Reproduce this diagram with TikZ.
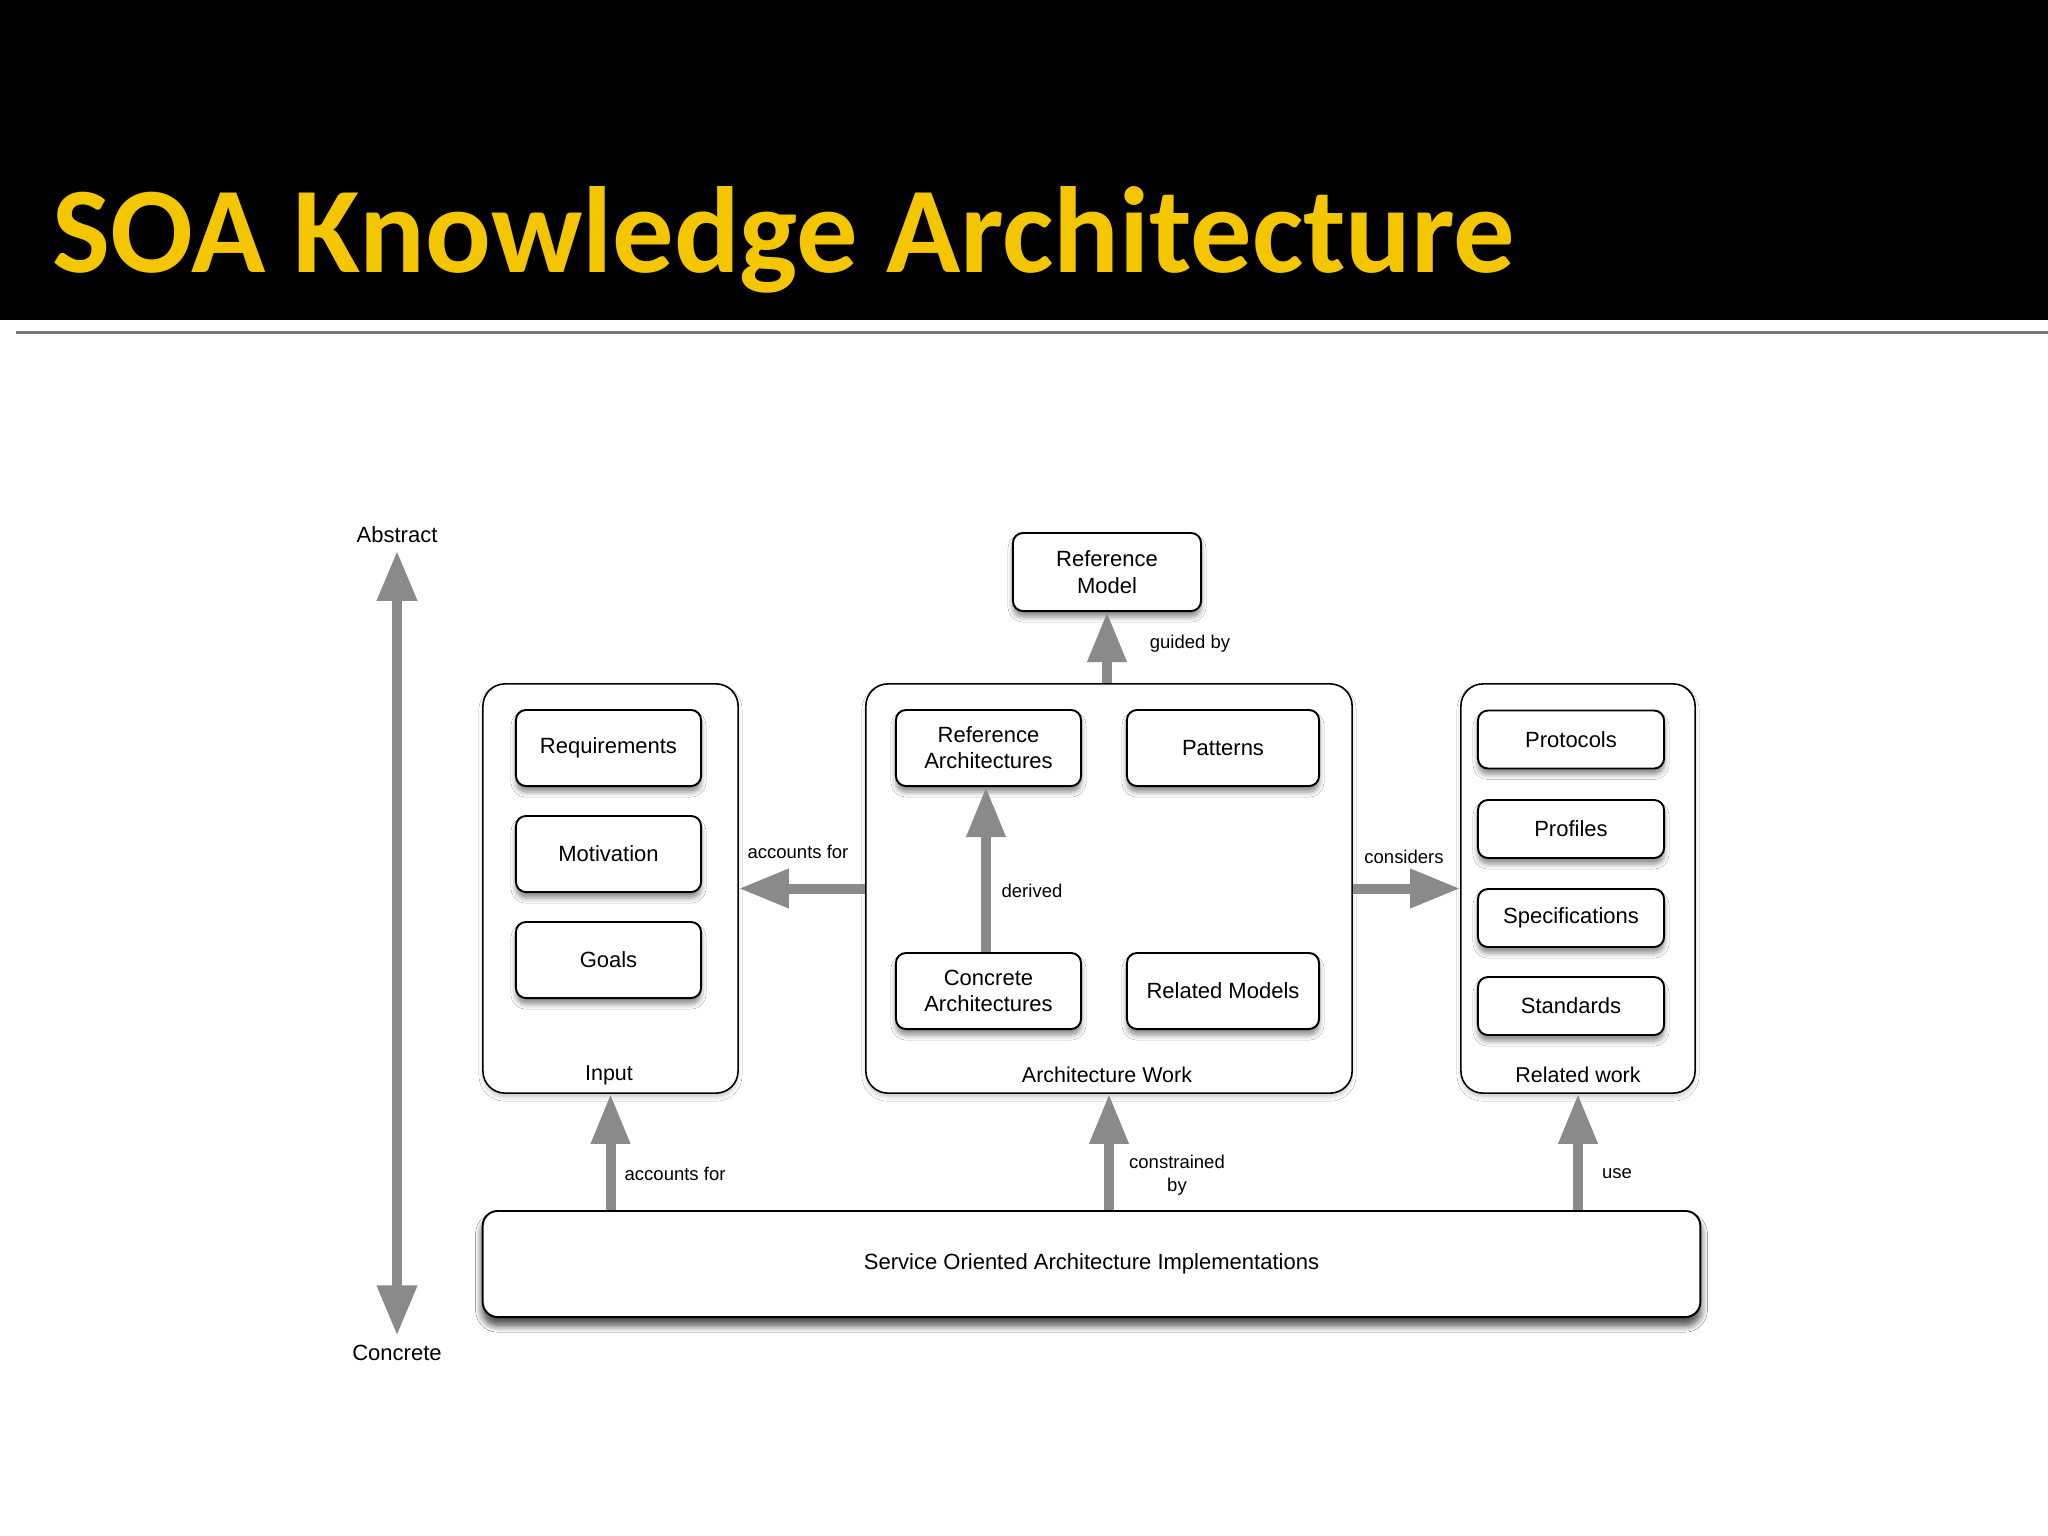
\documentclass[tikz,border=0pt]{standalone}
\usepackage{fontspec}
\setmainfont{Liberation Sans}
\newfontfamily\titlefont{Carlito}
\usetikzlibrary{arrows.meta,shadows.blur}

\definecolor{titleyellow}{RGB}{244,198,0}
\definecolor{arrowgray}{RGB}{138,138,138}
\definecolor{rulegray}{RGB}{120,120,120}

\begin{document}
\begin{tikzpicture}[x=0.01cm,y=-0.01cm,
  box/.style={draw=black, line width=0.55pt, rounded corners=0.1cm, fill=white,
    align=center, font=\fontsize{6.26}{7.4}\selectfont, inner sep=0pt,
    blur shadow={shadow xshift=0pt, shadow yshift=-0.06cm, shadow blur steps=5, shadow blur radius=0.05cm, shadow opacity=45}},
  container/.style={draw=black, line width=0.45pt, rounded corners=0.22cm, fill=white, inner sep=0pt,
    blur shadow={shadow xshift=0pt, shadow yshift=-0.04cm, shadow blur steps=4, shadow blur radius=0.04cm, shadow opacity=20}},
  cnlabel/.style={font=\fontsize{6.1}{7.2}\selectfont, inner sep=0pt},
  lbl/.style={font=\fontsize{5.26}{6.7}\selectfont, inner sep=0pt, align=center},
  axlbl/.style={font=\fontsize{6.26}{7.4}\selectfont, inner sep=0pt},
  bigarrow/.style={draw=arrowgray, line width=0.1cm, -{Triangle[length=0.5cm,width=0.37cm]}, arrowgray},
]
\useasboundingbox (0,0) rectangle (2048,1536);
\fill[white] (0,0) rectangle (2048,1536);

% title bar
\fill[black] (0,0) rectangle (2048,320);
\draw[rulegray, line width=0.85pt] (16,332) -- (2048,332);
\node[anchor=base west, text=titleyellow, font=\titlefont\bfseries\fontsize{34.85}{40}\selectfont, inner sep=0pt] (title) at (52,272) {SOA Knowledge Architecture};

% axis
\node[axlbl] (abstract) at (397,535) {Abstract};
\node[axlbl] (concrete) at (397,1353) {Concrete};
\draw[draw=arrowgray, line width=0.1cm, {Triangle[length=0.5cm,width=0.38cm]}-{Triangle[length=0.5cm,width=0.38cm]}, arrowgray, shorten <=0.07cm, shorten >=0.09cm] (abstract.south) -- (concrete.north);

% containers
\node[container, minimum width=2.55cm, minimum height=4.09cm] (input) at (610.5,888.5) {};
\node[container, minimum width=4.86cm, minimum height=4.09cm] (archwork) at (1109,888.5) {};
\node[container, minimum width=2.34cm, minimum height=4.09cm] (relwork) at (1578,888.5) {};

\node[cnlabel] (inputlbl) at (609,1075) {Input};
\node[cnlabel] (archlbl) at (1107,1075) {Architecture Work};
\node[cnlabel] (rellbl) at (1578,1075) {Related work};

% input boxes
\node[box, minimum width=1.85cm, minimum height=0.76cm] (req) at (608.5,748) {Requirements};
\node[box, minimum width=1.85cm, minimum height=0.76cm] (mot) at (608.5,854) {Motivation};
\node[box, minimum width=1.85cm, minimum height=0.76cm] (goals) at (608.5,960) {Goals};

% architecture work boxes
\node[box, minimum width=1.85cm, minimum height=0.76cm] (refarch) at (988.5,748) {Reference\\Architectures};
\node[box, minimum width=1.92cm, minimum height=0.76cm] (patterns) at (1223,748) {Patterns};
\node[box, minimum width=1.85cm, minimum height=0.76cm] (concarch) at (988.5,991) {Concrete\\Architectures};
\node[box, minimum width=1.92cm, minimum height=0.76cm] (relmodels) at (1223,991) {Related Models};

% reference model
\node[box, minimum width=1.88cm, minimum height=0.78cm, font=\fontsize{6.26}{7.7}\selectfont] (refmodel) at (1107,572) {Reference\\Model};

% related work boxes
\node[box, minimum width=1.86cm, minimum height=0.58cm] (protocols) at (1571,739.5) {Protocols};
\node[box, minimum width=1.86cm, minimum height=0.58cm] (profiles) at (1571,829) {Profiles};
\node[box, minimum width=1.86cm, minimum height=0.58cm] (specs) at (1571,918) {Specifications};
\node[box, minimum width=1.86cm, minimum height=0.58cm] (standards) at (1571,1006) {Standards};

% bottom box
\node[box, rounded corners=0.15cm, minimum width=12.17cm, minimum height=1.06cm,
  blur shadow={shadow xshift=0pt, shadow yshift=-0.08cm, shadow blur steps=6, shadow blur radius=0.07cm, shadow opacity=45}] (soa) at (1091.5,1264) {Service Oriented Architecture Implementations};

% arrows
\draw[bigarrow] (concarch.north -| 986,0) -- (refarch.south -| 986,0);
\draw[bigarrow] (archwork.north -| refmodel.south) -- (refmodel.south);
\draw[bigarrow] (archwork.west) -- (input.east);
\draw[bigarrow] (archwork.east) -- (relwork.west);
\draw[bigarrow] (soa.north -| input.south) -- (input.south);
\draw[bigarrow] (soa.north -| archwork.south) -- (archwork.south);
\draw[bigarrow] (soa.north -| relwork.south) -- (relwork.south);

% arrow labels
\node[lbl] (lderived) at (1032,891) {derived};
\node[lbl] (lguided) at (1190,644) {guided by};
\node[lbl] (lacc1) at (798,852) {accounts for};
\node[lbl] (lconsiders) at (1404,857) {considers};
\node[lbl, anchor=west] (lacc2) at (624,1174) {accounts for};
\node[lbl] (lconstr) at (1177,1175) {constrained\\by};
\node[lbl] (luse) at (1617,1174) {use};
\end{tikzpicture}
\end{document}
